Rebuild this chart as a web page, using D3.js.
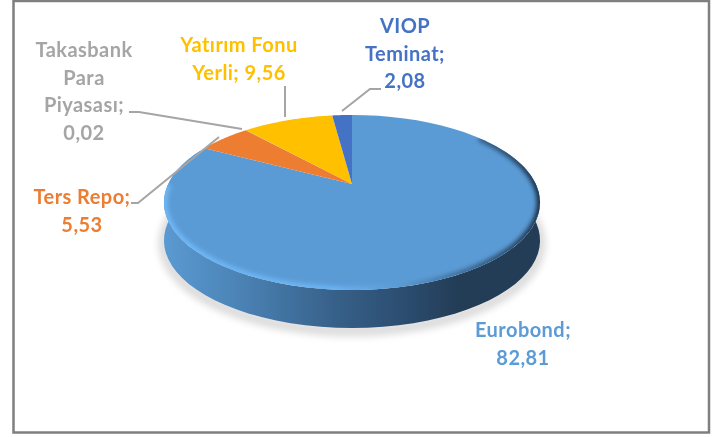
<!DOCTYPE html>
<html><head><meta charset="utf-8">
<script src="https://cdn.jsdelivr.net/npm/d3@7"></script>
<style>html,body{margin:0;padding:0;background:#fff}svg{display:block}
text{font-family:Lato,sans-serif;font-weight:700;font-size:20px;letter-spacing:.45px;text-anchor:middle}</style>
</head><body><svg id="c" width="717" height="437"></svg>
<script>
const categories = ["Eurobond","Ters Repo","Takasbank Para Piyasası","Yatırım Fonu Yerli","VIOP Teminat"];
const values = [82.81,5.53,0.02,9.56,2.08];
const colors = ["#5b9bd5","#ed7d31","#a5a5a5","#ffc000","#4472c4"];
const labelLines = [["Eurobond;","82,81"],["Ters Repo;","5,53"],["Takasbank","Para","Piyasası;","0,02"],["Yatırım Fonu","Yerli; 9,56"],["VIOP","Teminat;","2,08"]];
const labelAnchors = [[523,337],[82,204],[84,57],[239,52],[405,33]];
const leaders = [null,[[131,203],[138,203],[219,137]],[[129,112],[139,112],[242,129]],[[285,86],[285,117]],[[342,111],[370,89],[381,89]]];
const lineGap = 27.5;

const svg = d3.select("#c");
const cx=352, cy=184, R=183.8, S=83.6, P=0.211, depth=38;
const project=(t,d=0)=>{const w=1+P*Math.cos(t);return [cx+R*Math.sin(t)/w, cy-S*Math.cos(t)/w+d];};
const line=d3.line();
const rim=(a,b,d=0)=>d3.range(0,61).map(i=>project(a+(b-a)*i/60,d));
const full=d=>line(rim(0,2*Math.PI,d))+"Z";
const arcs=d3.pie().sort(null).value(d=>d)(values);

const defs=svg.append("defs");
const grad=(id,stops)=>{const g=defs.append("linearGradient").attr("id",id).attr("gradientUnits","userSpaceOnUse")
  .attr("x1",164).attr("x2",540).attr("y1",0).attr("y2",0);
  stops.forEach(s=>g.append("stop").attr("offset",s[0]).attr("stop-color",s[1]));};
grad("side",[[0,"#5a9ad2"],[0.2,"#4b83b5"],[0.45,"#37618a"],[0.62,"#2d4f72"],[0.78,"#233d57"],[1,"#233d57"]]);
grad("bevel",[[0,"#6fb8f8"],[0.45,"#6cb4f4"],[0.62,"#5b9bd5"],[0.8,"#3d6b96"],[0.93,"#2a4a6b"],[1,"#1c3148"]]);
[["b2",2],["b6",3.5]].forEach(f=>defs.append("filter").attr("id",f[0]).attr("x","-20%").attr("y","-20%").attr("width","140%").attr("height","140%")
  .append("feGaussianBlur").attr("stdDeviation",f[1]));
defs.append("filter").attr("id","soft").append("feGaussianBlur").attr("stdDeviation",0.35);
defs.append("clipPath").attr("id","top").append("path").attr("d",full(0));

// frame
svg.append("rect").attr("x",13.5).attr("y",1).attr("width",695.5).attr("height",431.5)
  .attr("fill","#fff").attr("stroke","#7f7f7f").attr("stroke-width",2.5);

// shadow and side wall
const shadowPts=rim(Math.PI*0.5-0.3,Math.PI*1.5+0.3,depth+3);
svg.append("path").attr("d",line(shadowPts)).attr("fill","none").attr("stroke","#dcdcdc").attr("stroke-width",11).attr("filter","url(#b6)");
const wall=rim(Math.PI*0.5-0.45,Math.PI*1.5+0.45,depth).concat(rim(Math.PI*1.5+0.45,Math.PI*0.5-0.45,0));
svg.append("path").attr("d",line(wall)+"Z").attr("fill","url(#side)");

// slices
svg.append("g").selectAll("path").data(arcs).join("path")
  .attr("d",d=>line([[cx,cy],...rim(d.startAngle,d.endAngle)])+"Z")
  .attr("fill",(d,i)=>colors[i]);

// bevel on the lit part of the rim
const ba=arcs[0];
svg.append("g").attr("clip-path","url(#top)").append("path")
  .attr("d",line(rim(ba.startAngle+0.9,ba.endAngle-0.5)))
  .attr("fill","none").attr("stroke","url(#bevel)").attr("stroke-width",7).attr("filter","url(#b2)");

// leaders
svg.append("g").selectAll("path").data(leaders.filter(Boolean)).join("path")
  .attr("d",d=>line(d)).attr("fill","none").attr("stroke","#a5a5a5").attr("stroke-width",2);

// labels
const lab=svg.append("g").attr("filter","url(#soft)").selectAll("text").data(labelLines).join("text")
  .attr("fill",(d,i)=>colors[i]);
lab.each(function(d,i){const t=d3.select(this);
  d.forEach((s,j)=>t.append("tspan").attr("x",labelAnchors[i][0]).attr("y",labelAnchors[i][1]+j*lineGap).text(s));});
</script></body></html>
